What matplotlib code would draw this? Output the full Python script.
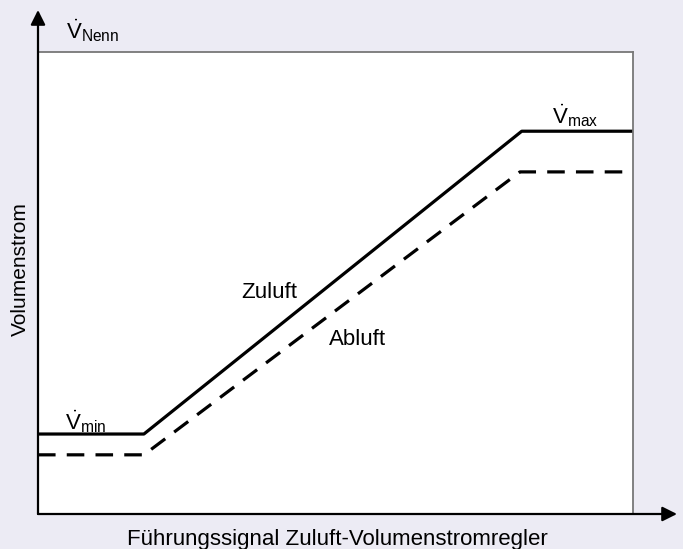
import matplotlib.pyplot as plt

plt.rcParams['font.family'] = ['Liberation Sans', 'DejaVu Sans']
plt.rcParams['mathtext.fontset'] = 'custom'
plt.rcParams['mathtext.rm'] = 'Liberation Sans'
plt.rcParams['mathtext.it'] = 'Liberation Sans'
plt.rcParams['mathtext.bf'] = 'Liberation Sans:bold'

# signal (x) and volume flow (y), both in % of axis range
zuluft_x = [0, 17.8, 81.3, 100]
zuluft_y = [17.3, 17.3, 82.8, 82.8]
abluft_x = [0, 17.8, 81.0, 100]
abluft_y = [12.8, 12.8, 74.0, 74.0]

bg = '#ecebf4'
fs = 16

# plot box in pixels
L, R, T, B = 38, 633, 51.7, 514
W, H = R - L, B - T

fig = plt.figure(figsize=(6.83, 5.49), dpi=100, facecolor=bg)
ax = fig.add_axes([L / 683, (549 - B) / 549, W / 683, H / 549])
ax.set_facecolor('white')

ax.plot(zuluft_x, zuluft_y, color='black', lw=2.3, solid_capstyle='butt')
ax.plot(abluft_x, abluft_y, color='black', lw=2.3, linestyle=(0, (5.5, 3.5)))

ax.set_xlim(0, 100)
ax.set_ylim(0, 100)
ax.set_xticks([])
ax.set_yticks([])
for s in ['top', 'right']:
    ax.spines[s].set_color('#777777')
    ax.spines[s].set_linewidth(1.3)
ax.spines['left'].set_visible(False)
ax.spines['bottom'].set_visible(False)

# axis arrows
arrow = dict(arrowstyle='-|>', color='black', lw=1.6, mutation_scale=22,
             shrinkA=0, shrinkB=0)
ax.annotate('', xy=(0, (B - 10) / H), xytext=(0, 0), xycoords='axes fraction',
            textcoords='axes fraction', arrowprops=arrow, annotation_clip=False)
ax.annotate('', xy=((677 - L) / W, 0), xytext=(0, 0), xycoords='axes fraction',
            textcoords='axes fraction', arrowprops=arrow, annotation_clip=False)


def px(x, y):
    # pixel position -> data coordinates
    return (x - L) / W * 100, (B - y) / H * 100


def label(x, y, s, **kw):
    dx, dy = px(x, y)
    opts = dict(fontsize=fs, va='baseline', ha='left', clip_on=False)
    opts.update(kw)
    ax.text(dx, dy, s, **opts)


label(66, 38, r'$\dot{\mathrm{V}}_{\mathrm{Nenn}}$')
label(552, 123, r'$\dot{\mathrm{V}}_{\mathrm{max}}$')
label(65, 429, r'$\dot{\mathrm{V}}_{\mathrm{min}}$')
label(241, 298, 'Zuluft')
label(329, 345, 'Abluft')
label(337.5, 545, 'Führungssignal Zuluft-Volumenstromregler', ha='center')
label(20, 269, 'Volumenstrom', fontsize=15, rotation=90, ha='center', va='center')

fig.savefig('out.png', dpi=100, facecolor=bg)
